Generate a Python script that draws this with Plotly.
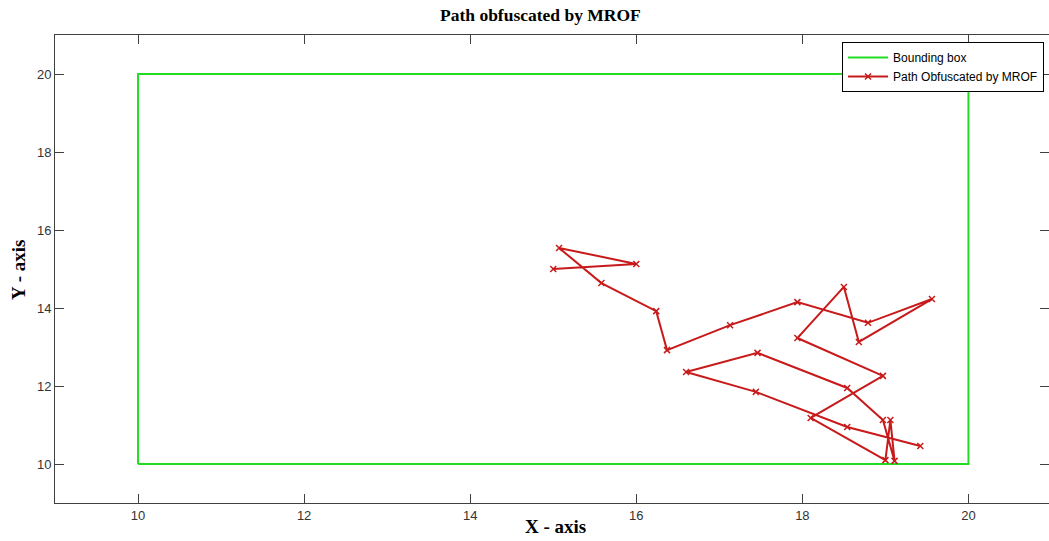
import plotly.graph_objects as go

# Bounding box corners (closed rectangle)
box_x = [10, 20, 20, 10, 10]
box_y = [10, 10, 20, 20, 10]

# Obfuscated path vertices, in visiting order
path_x = [15.00, 16.00, 15.07, 15.58, 16.24, 16.37, 17.13, 17.94, 18.79, 19.56,
          18.68, 18.50, 17.94, 18.97, 18.10, 19.00, 19.06, 19.11, 18.97, 18.54,
          17.46, 16.60, 17.44, 18.54, 19.42]
path_y = [15.00, 15.13, 15.54, 14.64, 13.92, 12.92, 13.56, 14.15, 13.62, 14.23,
          13.13, 14.54, 13.23, 12.26, 11.18, 10.10, 11.13, 10.08, 11.13, 11.95,
          12.85, 12.36, 11.85, 10.95, 10.46]

x_ticks = [10, 12, 14, 16, 18, 20]
y_ticks = [10, 12, 14, 16, 18, 20]

fig = go.Figure()
fig.add_trace(go.Scatter(
    x=box_x, y=box_y, mode="lines", name="Bounding box",
    line=dict(color="#22dd22", width=2),
))
fig.add_trace(go.Scatter(
    x=path_x, y=path_y, mode="lines+markers", name="Path Obfuscated by MROF",
    line=dict(color="#c81a1a", width=2),
    marker=dict(symbol="x-thin", size=6, color="#c81a1a",
                line=dict(color="#c81a1a", width=1.5)),
))

axis_common = dict(
    showline=True, linecolor="#404040", linewidth=1, mirror="ticks",
    ticks="inside", ticklen=9, tickcolor="#404040", tickwidth=1,
    showgrid=False, zeroline=False,
    tickfont=dict(family="Liberation Sans", size=13, color="#333333"),
)

fig.update_layout(
    width=1049, height=541,
    margin=dict(l=55, r=0, t=35, b=38),
    paper_bgcolor="white", plot_bgcolor="white",
    xaxis=dict(range=[9, 20.97], tickvals=x_ticks, **axis_common),
    yaxis=dict(range=[9, 21], tickvals=y_ticks, **axis_common),
    showlegend=True,
    legend=dict(
        x=0.995, y=0.985, xanchor="right", yanchor="top",
        bgcolor="white", bordercolor="#000000", borderwidth=1,
        font=dict(family="Liberation Sans", size=12, color="#000000"),
        tracegroupgap=0, itemwidth=40,
    ),
    annotations=[
        dict(text="<b>Path obfuscated by MROF</b>", xref="paper", yref="paper",
             x=(540 - 55) / 994, y=(503 - 15) / 468, showarrow=False,
             xanchor="center", yanchor="middle",
             font=dict(family="Liberation Serif", size=17.5, color="#000000")),
        dict(text="<b>X - axis</b>", xref="paper", yref="paper",
             x=(555 - 55) / 994, y=-(526 - 503) / 468, showarrow=False,
             xanchor="center", yanchor="middle",
             font=dict(family="Liberation Serif", size=19, color="#000000")),
        dict(text="<b>Y - axis</b>", xref="paper", yref="paper",
             x=-(55 - 18) / 994, y=(503 - 270) / 468, showarrow=False,
             xanchor="center", yanchor="middle", textangle=-90,
             font=dict(family="Liberation Serif", size=19, color="#000000")),
    ],
)

fig.write_html("out.html")
